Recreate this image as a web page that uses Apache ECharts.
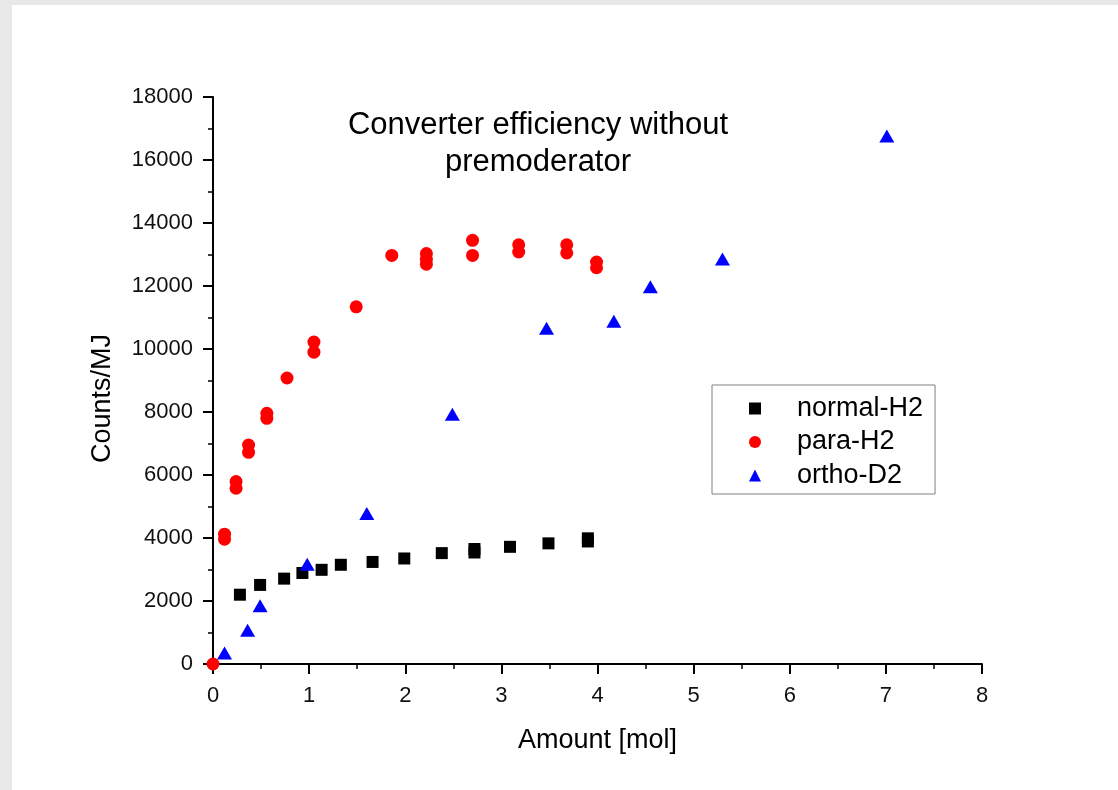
<!DOCTYPE html>
<html>
<head>
<meta charset="utf-8">
<script src="https://cdn.jsdelivr.net/npm/echarts@6/dist/echarts.min.js"></script>
<style>
  html, body { margin: 0; padding: 0; background: #e8e8e8; width: 1118px; height: 790px; overflow: hidden; }
  #chart { position: absolute; left: 12px; top: 5px; width: 1106px; height: 785px; background: #fff; }
</style>
</head>
<body>
<div id="chart"></div>
<script>
/* ----------  data  ---------- */
const normalH2X = [0.28, 0.49, 0.74, 0.93, 1.13, 1.33, 1.66, 1.99, 2.38, 2.72, 2.72, 3.09, 3.49, 3.90, 3.90];
const normalH2Y = [2200, 2510, 2710, 2890, 2990, 3150, 3240, 3350, 3520, 3650, 3540, 3720, 3830, 3990, 3890];

const paraH2X = [0, 0.12, 0.12, 0.24, 0.24, 0.37, 0.37, 0.56, 0.56, 0.77, 1.05, 1.05, 1.49, 1.86,
  2.22, 2.22, 2.22, 2.70, 2.70, 3.18, 3.18, 3.68, 3.68, 3.99, 3.99];
const paraH2Y = [0, 4120, 3960, 5790, 5580, 6950, 6720, 7960, 7800, 9080, 10220, 9900, 11340, 12970,
  13030, 12850, 12690, 13450, 12970, 13310, 13080, 13310, 13050, 12760, 12580];

const orthoD2X = [0.12, 0.36, 0.49, 0.98, 1.60, 2.49, 3.47, 4.17, 4.55, 5.30, 7.01];
const orthoD2Y = [350, 1070, 1850, 3170, 4780, 7930, 10660, 10880, 11980, 12860, 16760];

const seriesNames = ['normal-H2', 'para-H2', 'ortho-D2'];

const FONT = '"Liberation Sans", Arial, sans-serif';

function zip(xs, ys) {
  return xs.map((x, i) => [x, ys[i]]);
}

const chart = echarts.init(document.getElementById('chart'));

const axisCommon = {
  axisLine: { show: true, onZero: false, lineStyle: { color: '#000', width: 2 } },
  axisTick: { show: true, inside: false, length: 10, lineStyle: { color: '#000', width: 2 } },
  minorTick: { show: true, splitNumber: 2, length: 5, lineStyle: { color: '#000', width: 1.5 } },
  splitLine: { show: false },
  axisLabel: { color: '#111', fontFamily: FONT, fontSize: 22, formatter: (v) => String(v) },
  nameTextStyle: { color: '#000', fontFamily: FONT, fontSize: 27 },
};

chart.setOption({
  animation: false,
  title: {
    text: 'Converter efficiency without\npremoderator',
    left: 526,
    top: 102,
    textAlign: 'center',
    padding: 0,
    textStyle: { color: '#000', fontFamily: FONT, fontSize: 31, fontWeight: 'normal', lineHeight: 37 },
  },
  legend: {
    orient: 'vertical',
    left: 700,
    top: 380,
    padding: [10, 12, 5, 37],
    itemGap: 6.5,
    itemWidth: 12,
    itemHeight: 12,
    borderColor: '#808080',
    borderWidth: 1,
    borderRadius: 0,
    data: seriesNames,
    textStyle: { color: '#000', fontFamily: FONT, fontSize: 27, padding: [0, 0, 0, 31] },
  },
  grid: { left: 201, right: 136, top: 92, bottom: 126 },
  xAxis: {
    ...axisCommon,
    type: 'value',
    min: 0,
    max: 8,
    interval: 1,
    name: 'Amount [mol]',
    nameLocation: 'middle',
    nameGap: 63,
    axisLabel: { ...axisCommon.axisLabel, margin: 21 },
  },
  yAxis: {
    ...axisCommon,
    type: 'value',
    min: 0,
    max: 18000,
    interval: 2000,
    name: 'Counts/MJ',
    nameLocation: 'middle',
    nameGap: 97,
    nameTextStyle: { ...axisCommon.nameTextStyle, padding: [0, 36, 0, 0] },
    axisLabel: { ...axisCommon.axisLabel, margin: 20 },
  },
  series: [
    {
      name: seriesNames[0],
      type: 'scatter',
      symbol: 'rect',
      symbolSize: 12,
      itemStyle: { color: '#000', opacity: 1 },
      data: zip(normalH2X, normalH2Y),
    },
    {
      name: seriesNames[1],
      type: 'scatter',
      symbol: 'circle',
      symbolSize: 13,
      itemStyle: { color: '#ff0000', opacity: 1 },
      data: zip(paraH2X, paraH2Y),
    },
    {
      name: seriesNames[2],
      type: 'scatter',
      symbol: 'triangle',
      symbolSize: [15, 13],
      itemStyle: { color: '#0000ff', opacity: 1 },
      data: zip(orthoD2X, orthoD2Y),
    },
  ],
});
</script>
</body>
</html>
